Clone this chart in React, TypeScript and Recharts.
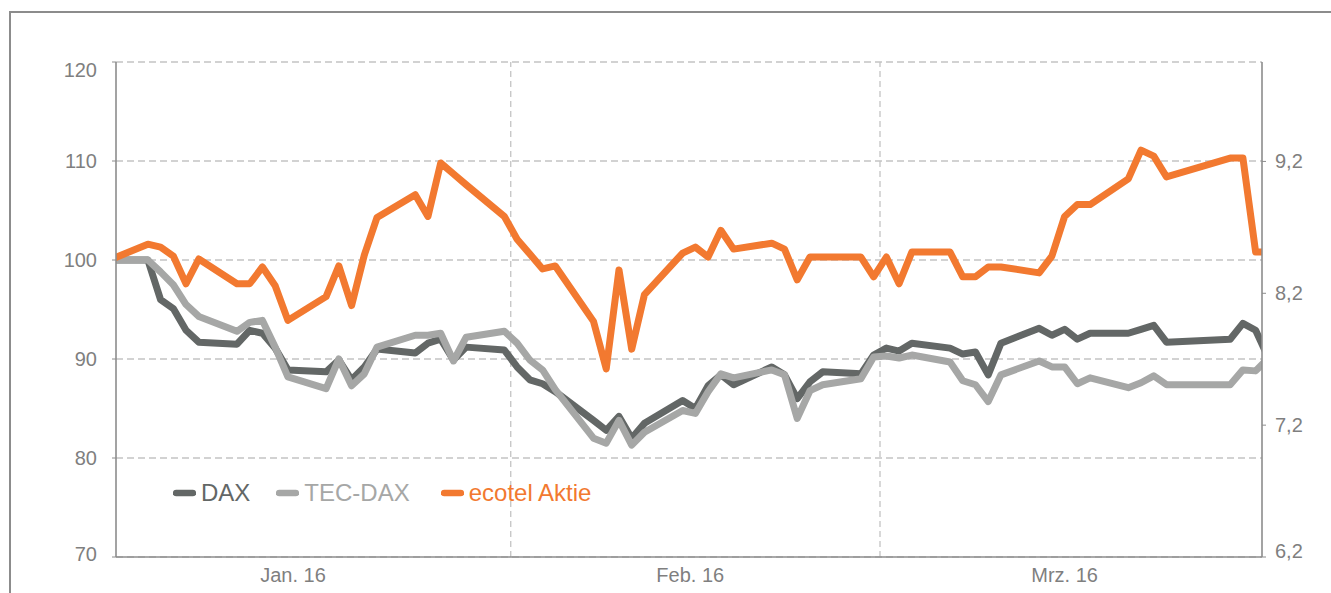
import { CartesianGrid, Line, LineChart, ReferenceLine, XAxis, YAxis } from 'recharts';

// trading day number, Jan 1 2016 = 0
const days = [
  0, 3, 4, 5, 6, 7, 10, 11, 12, 13, 14, 17, 18, 19, 20, 21, 24, 25, 26, 27, 28,
  31, 32, 33, 34, 35, 38, 39, 40, 41, 42, 45, 46, 47, 48, 49, 52, 53, 54, 55, 56, 59,
  60, 61, 62, 63, 66, 67, 68, 69, 70, 73, 74, 75, 76, 77, 80, 81, 82, 83, 88, 89, 90, 91
];

const dax = [
  100, 100, 96.0, 95.1, 92.9, 91.7, 91.5, 92.9, 92.6, 91.1, 88.9, 88.7, 89.9, 87.9, 89.2, 91.0,
  90.6, 91.6, 92.0, 89.9, 91.2, 90.9, 89.2, 87.9, 87.5, 86.7, 83.8, 82.8, 84.2, 82.0, 83.5,
  85.8, 85.0, 87.3, 88.4, 87.4, 89.2, 88.4, 86.0, 87.7, 88.7, 88.5, 90.4, 91.1, 90.8, 91.6,
  91.1, 90.5, 90.7, 88.4, 91.6, 93.1, 92.4, 93.0, 92.0, 92.6, 92.6, 93.0, 93.4, 91.7,
  92.0, 93.6, 92.9, 90.1
];

const tecDax = [
  100, 100, 98.8, 97.5, 95.5, 94.3, 92.8, 93.7, 93.9, 91.2, 88.2, 87.0, 90.0, 87.3, 88.5, 91.2,
  92.4, 92.4, 92.6, 89.8, 92.2, 92.8, 91.6, 89.9, 88.9, 86.9, 82.0, 81.5, 83.8, 81.3, 82.6,
  84.8, 84.5, 86.7, 88.5, 88.1, 88.9, 88.4, 84.0, 86.8, 87.4, 88.0, 90.2, 90.3, 90.1, 90.4,
  89.7, 87.8, 87.4, 85.7, 88.4, 89.8, 89.2, 89.2, 87.5, 88.1, 87.1, 87.6, 88.3, 87.4,
  87.4, 88.9, 88.8, 90.1
];

const ecotel = [
  100, 101.6, 101.3, 100.4, 97.6, 100.1, 97.6, 97.6, 99.3, 97.4, 93.9, 96.3, 99.4, 95.4, 100.5, 104.3,
  106.6, 104.4, 109.8, 108.7, 107.6, 104.4, 102.1, 100.6, 99.1, 99.4, 93.8, 89.0, 99.0, 91.0, 96.5,
  100.7, 101.3, 100.3, 103.0, 101.1, 101.7, 101.1, 98.0, 100.3, 100.3, 100.3, 98.3, 100.3, 97.6, 100.8,
  100.8, 98.3, 98.3, 99.3, 99.3, 98.7, 100.4, 104.4, 105.6, 105.6, 108.2, 111.1, 110.5, 108.4,
  110.3, 110.3, 100.8, 100.8
];

const monthLabels = ['Jan. 16', 'Feb. 16', 'Mrz. 16'];
const monthLabelAt = [14.4, 45.6, 75.0];
const monthStarts = [31.5, 60.5];
const leftTicks = [70, 80, 90, 100, 110, 120];
const rightTicks = [6.2, 7.2, 8.2, 9.2];

const data = days.map((t, i) => ({ t, dax: dax[i], tecDax: tecDax[i], ecotel: ecotel[i] }));

const FONT = '"Liberation Sans", Arial, sans-serif';
const AXIS = '#8c8c8c';
const LABEL = '#7f7f7f';
const GRID = '#c4c4c4';

const series = [
  { key: 'dax', name: 'DAX', color: '#636766' },
  { key: 'tecDax', name: 'TEC-DAX', color: '#a6a7a6' },
  { key: 'ecotel', name: 'ecotel Aktie', color: '#f27930' }
];

function LeftTick(props: any) {
  const { x, y, payload } = props;
  const shift = payload.value === 120 ? 8 : payload.value === 70 ? -3.5 : 0;
  return (
    <text x={x} y={y + shift} dy="0.35em" textAnchor="end" fill={LABEL} fontSize={20} fontFamily={FONT}>
      {payload.value}
    </text>
  );
}

function RightTick(props: any) {
  const { x, y, payload } = props;
  const shift = payload.value === 6.2 ? -6 : 0;
  return (
    <text x={x} y={y + shift} dy="0.35em" textAnchor="start" fill={LABEL} fontSize={20} fontFamily={FONT}>
      {payload.value.toFixed(1).replace('.', ',')}
    </text>
  );
}

function LegendBox() {
  return (
    <div
      style={{
        position: 'absolute',
        left: 173,
        top: 479,
        display: 'flex',
        alignItems: 'center',
        fontFamily: FONT,
        fontSize: 24,
        lineHeight: '28px'
      }}
    >
      {series.map((s, i) => (
        <div key={s.key} style={{ display: 'flex', alignItems: 'center', marginRight: i === 0 ? 26 : 31 }}>
          <svg width={23} height={8} style={{ marginRight: 5 }}>
            <line x1={3} y1={4} x2={20} y2={4} stroke={s.color} strokeWidth={6.5} strokeLinecap="round" />
          </svg>
          <span style={{ color: s.color }}>{s.name}</span>
        </div>
      ))}
    </div>
  );
}

export default function App() {
  return (
    <div style={{ position: 'absolute', left: 0, top: 0, width: 1331, height: 593, overflow: 'hidden', background: '#fff' }}>
      <div
        style={{
          position: 'absolute',
          left: 9,
          top: 11,
          width: 1340,
          height: 600,
          borderLeft: `2px solid ${AXIS}`,
          borderTop: `2px solid ${AXIS}`
        }}
      />
      <div style={{ position: 'absolute', left: 0, top: 0 }}>
        <LineChart width={1331} height={593} data={data} margin={{ top: 62, right: 9, left: 56, bottom: 6 }}>
          <CartesianGrid yAxisId="left" vertical={false} stroke={GRID} strokeDasharray="7 4" strokeWidth={1.3} />
          <XAxis
            dataKey="t"
            type="number"
            domain={[0.5, 90.5]}
            allowDataOverflow
            ticks={monthLabelAt}
            tickFormatter={(v: number) => monthLabels[monthLabelAt.indexOf(v)]}
            tickLine={false}
            tickSize={6}
            tickMargin={5}
            height={30}
            axisLine={{ stroke: AXIS, strokeWidth: 1.6 }}
            tick={{ fill: LABEL, fontSize: 20, fontFamily: FONT }}
          />
          <YAxis
            yAxisId="left"
            domain={[70, 120]}
            ticks={leftTicks}
            allowDataOverflow
            width={60}
            tickSize={4}
            tickMargin={15}
            axisLine={{ stroke: AXIS, strokeWidth: 1.6 }}
            tickLine={{ stroke: AXIS }}
            tick={<LeftTick />}
          />
          <YAxis
            yAxisId="right"
            orientation="right"
            domain={[6.2, 9.954]}
            ticks={rightTicks}
            allowDataOverflow
            width={60}
            tickSize={4}
            tickMargin={9}
            axisLine={{ stroke: AXIS, strokeWidth: 1.6 }}
            tickLine={{ stroke: AXIS }}
            tick={<RightTick />}
          />
          {monthStarts.map((m) => (
            <ReferenceLine key={m} x={m} yAxisId="left" stroke={GRID} strokeDasharray="6 4" strokeWidth={1.3} />
          ))}
          {series.map((s) => (
            <Line
              key={s.key}
              yAxisId="left"
              type="linear"
              dataKey={s.key}
              name={s.name}
              stroke={s.color}
              strokeWidth={7}
              strokeLinejoin="round"
              dot={false}
              activeDot={false}
              isAnimationActive={false}
            />
          ))}
        </LineChart>
      </div>
      <LegendBox />
    </div>
  );
}
